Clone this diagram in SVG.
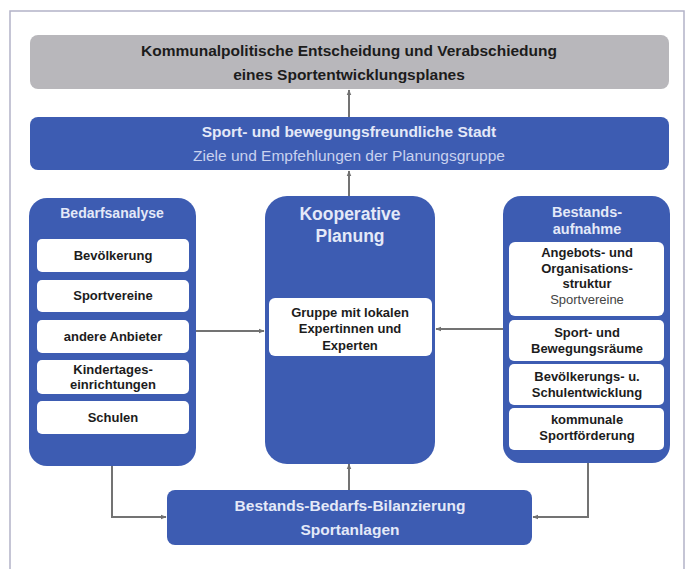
<svg xmlns="http://www.w3.org/2000/svg" width="687" height="569" viewBox="0 0 687 569">
<defs>
<marker id="ah" viewBox="0 0 10 10" refX="9" refY="5" markerWidth="6" markerHeight="6" orient="auto" markerUnits="userSpaceOnUse">
<path d="M0,1 L10,5 L0,9 z" fill="#707070"/>
</marker>
<style>
.blue{fill:#3d5cb2}
.gray{fill:#b8b7bb}
.sub{fill:#ffffff}
.t{font-family:"Liberation Sans",Arial,sans-serif;text-anchor:middle}
.dk{fill:#1c1c1c;font-weight:bold}
.lt{fill:#e4e9f8;font-weight:bold}
.lr{fill:#c9d2ef}
.s{font-size:13px}
.c{stroke:#737373;stroke-width:2;fill:none}
</style>
</defs>
<rect x="0" y="0" width="687" height="569" fill="#ffffff"/>
<path d="M10,575 L10,11 L684,11 L684,575" fill="none" stroke="#b3b3c8" stroke-width="1.5"/>

<g id="connectors">
<line class="c" x1="349" y1="117" x2="349" y2="90" marker-end="url(#ah)"/>
<line class="c" x1="349" y1="197" x2="349" y2="171" marker-end="url(#ah)"/>
<line class="c" x1="195" y1="331" x2="264" y2="331" marker-end="url(#ah)"/>
<line class="c" x1="503" y1="329" x2="436" y2="329" marker-end="url(#ah)"/>
<line class="c" x1="349" y1="490" x2="349" y2="464" marker-end="url(#ah)"/>
<polyline class="c" points="112,466 112,517 166,517" marker-end="url(#ah)"/>
<polyline class="c" points="588,463 588,517 533,517" marker-end="url(#ah)"/>
</g>

<g id="entscheidung">
<rect class="gray" x="30" y="35" width="639" height="54" rx="8"/>
<text class="t dk" x="349" y="56" font-size="15.5">Kommunalpolitische Entscheidung und Verabschiedung</text>
<text class="t dk" x="349" y="80" font-size="15.5">eines Sportentwicklungsplanes</text>
</g>

<g id="stadt">
<rect class="blue" x="30" y="117" width="639" height="53" rx="8"/>
<text class="t lt" x="349" y="137" font-size="15.5">Sport- und bewegungsfreundliche Stadt</text>
<text class="t lr" x="349" y="161" font-size="15.5">Ziele und Empfehlungen der Planungsgruppe</text>
</g>

<g id="bedarfsanalyse">
<rect class="blue" x="29" y="198" width="167" height="268" rx="18"/>
<text class="t lt" x="112" y="218" font-size="14">Bedarfsanalyse</text>
<rect class="sub" x="37" y="239" width="152" height="33" rx="5"/>
<text class="t dk s" x="113" y="260">Bevölkerung</text>
<rect class="sub" x="37" y="280" width="152" height="32" rx="5"/>
<text class="t dk s" x="113" y="300">Sportvereine</text>
<rect class="sub" x="37" y="320" width="152" height="33" rx="5"/>
<text class="t dk s" x="113" y="341">andere Anbieter</text>
<rect class="sub" x="37" y="360" width="152" height="34" rx="5"/>
<text class="t dk s" x="113" y="374">Kindertages-</text>
<text class="t dk s" x="113" y="389">einrichtungen</text>
<rect class="sub" x="37" y="401" width="152" height="33" rx="5"/>
<text class="t dk s" x="113" y="422">Schulen</text>
</g>

<g id="kooperative">
<rect class="blue" x="265" y="196" width="170" height="268" rx="22"/>
<text class="t lt" x="350" y="220" font-size="17.5">Kooperative</text>
<text class="t lt" x="350" y="242" font-size="17.5">Planung</text>
<rect class="sub" x="269" y="298" width="163" height="58" rx="6"/>
<text class="t dk s" x="350" y="317">Gruppe mit lokalen</text>
<text class="t dk s" x="350" y="333">Expertinnen und</text>
<text class="t dk s" x="350" y="350">Experten</text>
</g>

<g id="bestandsaufnahme">
<rect class="blue" x="503" y="196" width="167" height="267" rx="18"/>
<text class="t lt" x="587" y="217" font-size="14.5">Bestands-</text>
<text class="t lt" x="587" y="234" font-size="14.5">aufnahme</text>
<rect class="sub" x="509" y="242" width="155" height="74" rx="6"/>
<text class="t dk s" x="587" y="257">Angebots- und</text>
<text class="t dk s" x="587" y="273">Organisations-</text>
<text class="t dk s" x="587" y="288">struktur</text>
<text class="t s" x="587" y="304" fill="#444444">Sportvereine</text>
<rect class="sub" x="509" y="320" width="155" height="41" rx="5"/>
<text class="t dk s" x="587" y="337">Sport- und</text>
<text class="t dk s" x="587" y="353">Bewegungsräume</text>
<rect class="sub" x="509" y="364" width="155" height="41" rx="5"/>
<text class="t dk s" x="587" y="381">Bevölkerungs- u.</text>
<text class="t dk s" x="587" y="397">Schulentwicklung</text>
<rect class="sub" x="509" y="408" width="155" height="42" rx="5"/>
<text class="t dk s" x="587" y="424">kommunale</text>
<text class="t dk s" x="587" y="440">Sportförderung</text>
</g>

<g id="bilanzierung">
<rect class="blue" x="167" y="490" width="365" height="55" rx="8"/>
<text class="t lt" x="350" y="511" font-size="15.5">Bestands-Bedarfs-Bilanzierung</text>
<text class="t lt" x="350" y="535" font-size="15.5">Sportanlagen</text>
</g>
</svg>
